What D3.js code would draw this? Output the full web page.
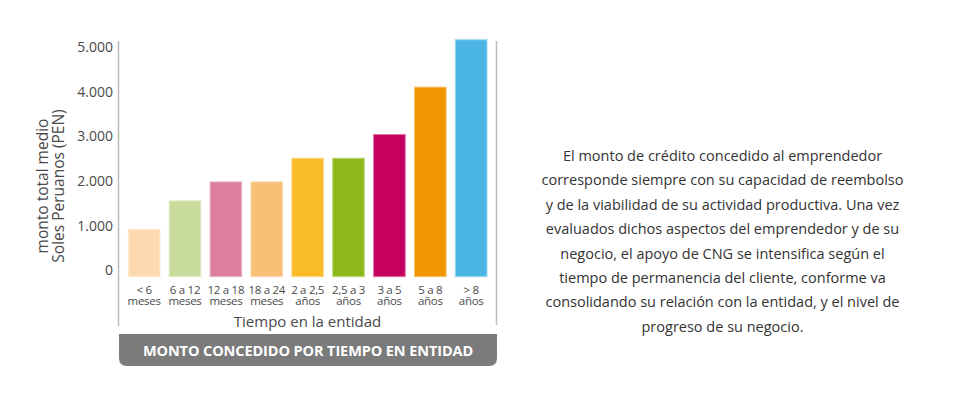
<!DOCTYPE html>
<html><head><meta charset="utf-8">
<script src="https://cdn.jsdelivr.net/npm/d3@7"></script>
<style>
html,body{margin:0;padding:0;background:#fff;}
svg{display:block;font-family:"Open Sans",sans-serif;}
</style></head>
<body><svg id="c" width="960" height="418"></svg>
<script>
const categories = ["< 6|meses","6 a 12|meses","12 a 18|meses","18 a 24|meses","2 a 2,5|años","2,5 a 3|años","3 a 5|años","5 a 8|años","> 8|años"];
const values = [1000, 1600, 2000, 2000, 2500, 2500, 3000, 4000, 5000];
const colors = ["#FDD9B0","#CADC9C","#DC7F9E","#F8BF77","#FBBC2C","#8DB91B","#C5005F","#F29500","#4BB6E5"];
const tickValues = [0, 1000, 2000, 3000, 4000, 5000];
const yTitle = ["monto total medio","Soles Peruanos (PEN)"];
const xTitle = "Tiempo en la entidad";
const boxTitle = "MONTO CONCEDIDO POR TIEMPO EN ENTIDAD";
const paragraph = [
 "El monto de crédito concedido al emprendedor",
 "corresponde siempre con su capacidad de reembolso",
 "y de la viabilidad de su actividad productiva. Una vez",
 "evaluados dichos aspectos del emprendedor y de su",
 "negocio, el apoyo de CNG se intensifica según el",
 "tiempo de permanencia del cliente, conforme va",
 "consolidando su relación con la entidad, y el nivel de",
 "progreso de su negocio."
];

const svg = d3.select("#c");
const x = d3.scaleBand().domain(categories).range([123.7, 491.6]).paddingInner(0.225).paddingOuter(0.1125);
const y = d3.scaleLinear().domain([0, 5000]).range([276.7, 39.7]);
const yLab = d3.scaleLinear().domain([0, 5000]).range([270.5, 47]);

// frame lines
svg.append("line").attr("x1",118.5).attr("x2",118.5).attr("y1",41).attr("y2",326).attr("stroke","#bdbdbd").attr("stroke-width",1.5);
svg.append("line").attr("x1",496.5).attr("x2",496.5).attr("y1",41).attr("y2",325).attr("stroke","#bdbdbd").attr("stroke-width",1.5);

// y axis labels
const ya = svg.append("g").attr("transform","translate(113,0)")
  .call(d3.axisLeft(yLab).tickValues(tickValues).tickSize(0).tickPadding(0)
    .tickFormat(d => d3.format(",")(d).replace(/,/g,".")));
ya.select(".domain").remove();
ya.selectAll("text").attr("font-size",14).attr("fill","#4a4a4a").attr("font-family","'Open Sans',sans-serif");

// bars
svg.append("g").selectAll("rect").data(values).join("rect")
  .attr("x",(d,i)=>x(categories[i])).attr("width",x.bandwidth())
  .attr("y",d=>y(d)).attr("height",d=>y(0)-y(d))
  .attr("fill",(d,i)=>colors[i])
  .attr("stroke",(d,i)=>d3.interpolateRgb(colors[i],"#fff")(0.45)).attr("stroke-width",1);

// category labels
const cl = svg.append("g").selectAll("text").data(categories).join("text")
  .attr("x",d=>x(d)+x.bandwidth()/2).attr("text-anchor","middle")
  .attr("font-size",11.5).attr("fill","#4a4a4a").attr("letter-spacing","-0.3");
cl.each(function(d){
  const parts = d.split("|");
  const t = d3.select(this);
  parts.forEach((p,k)=>t.append("tspan").attr("x",x(d)+x.bandwidth()/2).attr("y",293.5+k*11).text(p));
});

// x title
svg.append("text").attr("x",307.5).attr("y",327).attr("text-anchor","middle")
  .attr("font-size",15).attr("fill","#4a4a4a").text(xTitle);

// y title
const yt = svg.append("text").attr("transform","translate(0,186) rotate(-90)").attr("text-anchor","middle")
  .attr("font-size",15.5).attr("fill","#4a4a4a");
yTitle.forEach((s,k)=>yt.append("tspan").attr("x",0).attr("y",48+k*16).text(s));

// bottom box (bottom corners rounded)
const bx0=119, bx1=497, by0=334, by1=366, r=8;
svg.append("path").attr("d",`M${bx0},${by0}H${bx1}V${by1-r}Q${bx1},${by1} ${bx1-r},${by1}H${bx0+r}Q${bx0},${by1} ${bx0},${by1-r}Z`).attr("fill","#7b7b7b");
svg.append("text").attr("x",(bx0+bx1)/2).attr("y",356).attr("text-anchor","middle")
  .attr("font-size",14.5).attr("font-weight","bold").attr("fill","#fff").attr("letter-spacing","-0.1").text(boxTitle);

// paragraph
svg.append("g").selectAll("text").data(paragraph).join("text")
  .attr("x",722.5).attr("y",(d,i)=>161+i*24.4).attr("text-anchor","middle")
  .attr("font-size",14.5).attr("fill","#333").text(d=>d);
</script></body></html>
